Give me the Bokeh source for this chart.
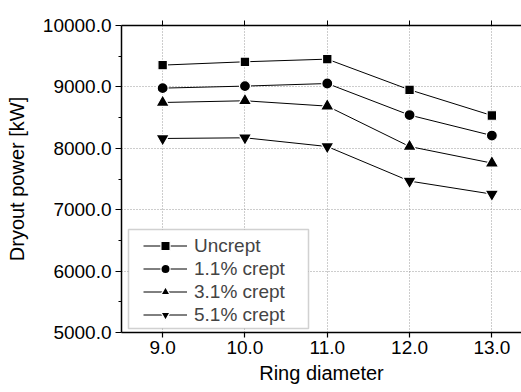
from bokeh.plotting import figure
from bokeh.models import (Range1d, LinearAxis, PrintfTickFormatter, FixedTicker,
                          Legend, LegendItem, BoxAnnotation)
from bokeh.embed import file_html
from bokeh.resources import INLINE

ring = [9.0, 10.0, 11.0, 12.0, 13.0]
uncrept = [9355, 9409, 9452, 8953, 8534]
crept_1_1 = [8980, 9013, 9055, 8541, 8208]
crept_3_1 = [8746, 8774, 8687, 8029, 7759]
crept_5_1 = [8160, 8171, 8029, 7466, 7254]
names = ["Uncrept", "1.1% crept", "3.1% crept", "5.1% crept"]
x_ticks = [9.0, 10.0, 11.0, 12.0, 13.0]
y_ticks = [5000, 6000, 7000, 8000, 9000, 10000]

FONT = "Liberation Sans"

p = figure(width=521, height=392, output_backend="svg", toolbar_location=None,
           x_range=Range1d(8.5, 13.36), y_range=Range1d(5000, 10000),
           min_border_left=121, min_border_right=0, min_border_top=25,
           min_border_bottom=60)
p.outline_line_color = None
p.background_fill_color = "white"
p.border_fill_color = "white"

for ax in (p.xaxis[0], p.yaxis[0]):
    ax.axis_line_color = "black"
    ax.axis_line_width = 1.5
    ax.major_tick_line_color = "black"
    ax.major_tick_line_width = 1.2
    ax.major_tick_in = 0
    ax.major_tick_out = 6
    ax.major_label_text_font = FONT
    ax.major_label_text_font_size = "19px"
    ax.major_label_text_color = "black"
    ax.axis_label_text_font = FONT
    ax.axis_label_text_font_size = "20px"
    ax.axis_label_text_font_style = "normal"
    ax.axis_label_text_color = "black"
    ax.major_label_standoff = 4

p.xaxis[0].ticker = FixedTicker(ticks=x_ticks)
p.xaxis[0].formatter = PrintfTickFormatter(format="%.1f")
p.xaxis[0].minor_tick_line_color = None
p.xaxis[0].major_tick_out = 5
p.xaxis[0].major_label_standoff = 3
p.xaxis[0].axis_label = "Ring diameter"
p.xaxis[0].axis_label_standoff = 5

p.yaxis[0].ticker = FixedTicker(ticks=y_ticks, minor_ticks=[5500, 6500, 7500, 8500, 9500])
p.yaxis[0].formatter = PrintfTickFormatter(format="%.1f")
p.yaxis[0].minor_tick_in = 0
p.yaxis[0].minor_tick_out = 3
p.yaxis[0].minor_tick_line_color = "black"
p.yaxis[0].axis_label = "Dryout power [kW]"
p.yaxis[0].axis_label_standoff = 12

top = LinearAxis(ticker=FixedTicker(ticks=x_ticks), major_label_text_font_size="0px",
                 major_label_text_color=None, axis_line_width=1.5,
                 major_tick_in=0, major_tick_out=5, minor_tick_line_color=None,
                 major_label_standoff=0)
p.add_layout(top, "above")

p.xgrid.ticker = FixedTicker(ticks=x_ticks)
p.ygrid.ticker = FixedTicker(ticks=y_ticks)
for g in (p.xgrid, p.ygrid):
    g.grid_line_color = "#9a9a9a"
    g.grid_line_dash = "1 2"
    g.grid_line_width = 1

# legend frame (drawn above the grid, below the legend entries)
box = BoxAnnotation(left=7, right=187, bottom=4, top=103,
                    left_units="screen", right_units="screen",
                    bottom_units="screen", top_units="screen",
                    fill_color="white", fill_alpha=1,
                    line_color="#666666", line_width=1.5, level="glyph")
p.add_layout(box)

series = [uncrept, crept_1_1, crept_3_1, crept_5_1]
markers = ["square", "circle", "triangle", "inverted_triangle"]
sizes = [9.5, 11, 13.5, 13.5]
items = []
for name, ys, mk, sz in zip(names, series, markers, sizes):
    r1 = p.line(ring, ys, line_color="black", line_width=1)
    r2 = p.scatter(ring, ys, marker=mk, size=sz, fill_color="black",
                   line_color="white", line_width=1.2)
    items.append(LegendItem(label=name, renderers=[r1, r2]))

leg = Legend(items=items, location=(22, 6), glyph_width=44, glyph_height=23,
             spacing=0, padding=2, label_standoff=7, label_text_font=FONT,
             label_text_font_size="19px", label_height=23,
             border_line_color=None, background_fill_alpha=0)
p.add_layout(leg, "center")

open("out.html", "w").write(file_html(p, INLINE))
